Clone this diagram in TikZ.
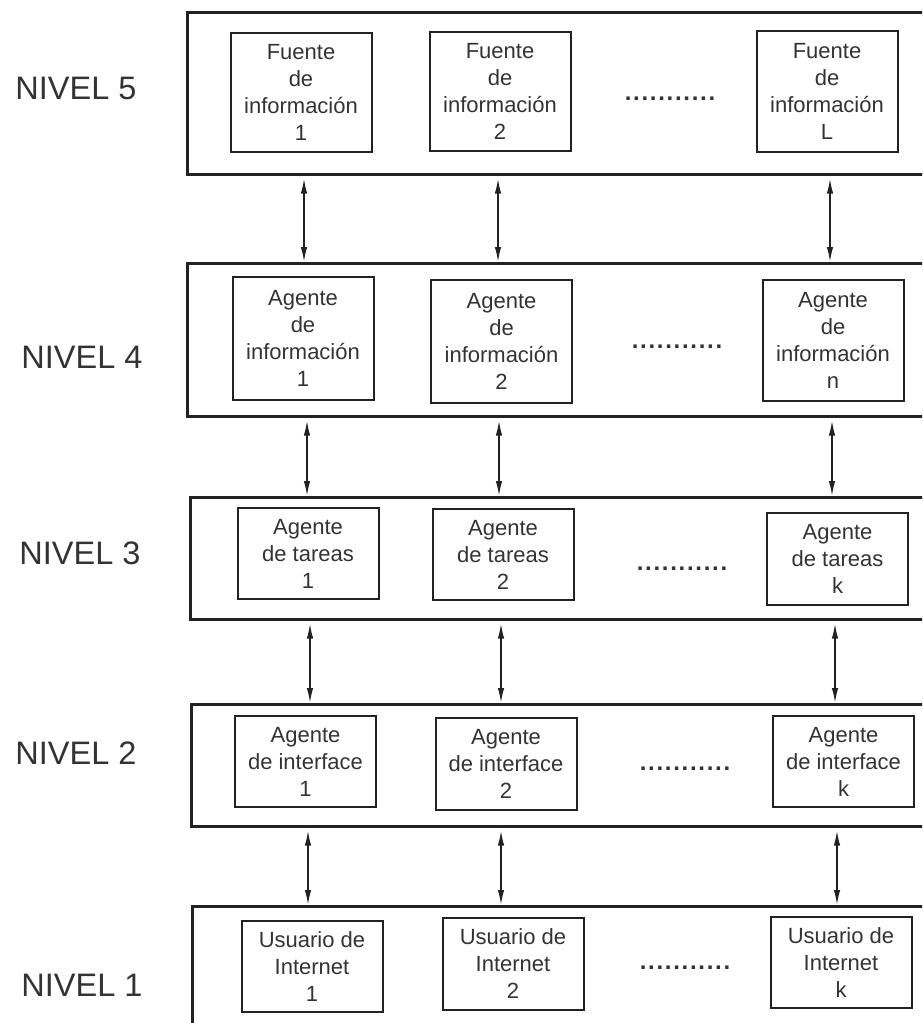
\documentclass[tikz,border=0pt]{standalone}
\usepackage{fontspec}
\setmainfont{Liberation Sans}
\usetikzlibrary{arrows.meta}
\definecolor{lvink}{HTML}{222222}
\definecolor{lvtext}{HTML}{333333}
\tikzset{
  levelbox/.style={draw=lvink,line width=2.5pt,anchor=north west,minimum width=760pt,inner sep=0pt},
  unitbox/.style={draw=lvink,line width=2pt,inner sep=0pt,align=center,text=lvtext,font=\fontsize{22}{27}\selectfont,minimum width=141pt},
  lvl/.style={text=lvtext,font=\fontsize{32.5}{38}\selectfont},
  gap/.style={text=lvtext,font=\fontsize{24}{26}\bfseries,anchor=base,inner sep=0pt},
  arr/.style={{Latex[length=15pt,width=6.5pt]}-{Latex[length=15pt,width=6.5pt]},line width=1.6pt,draw=lvink,shorten <=3pt},
}
\newcommand{\dotrow}{\hbox to 92pt{\xleaders\hbox to 8.36pt{\hss.\hss}\hfill}}

\begin{document}
\begin{tikzpicture}[x=1pt,y=-1pt]
  \useasboundingbox (0,0) rectangle (922,1023);
  \clip (0,0) rectangle (922,1023);
  % niveles
  \node[levelbox,minimum height=162pt] (f5) at (186,11) {};
  \node[levelbox,minimum height=153pt] (f4) at (186,262) {};
  \node[levelbox,minimum height=122pt] (f3) at (189,496) {};
  \node[levelbox,minimum height=122pt] (f2) at (190,703) {};
  \node[levelbox,minimum height=200pt] (f1) at (191,905) {};
  \node[lvl] (n5) at (76,88) {NIVEL 5};
  \node[lvl] (n4) at (82,357) {NIVEL 4};
  \node[lvl] (n3) at (80,553) {NIVEL 3};
  \node[lvl] (n2) at (76,753) {NIVEL 2};
  \node[lvl] (n1) at (82,985) {NIVEL 1};
  % nivel 5
  \node[unitbox,minimum height=119pt] (fi1) at (301,92.5) {Fuente\\de\\información\\1};
  \node[unitbox,minimum height=119pt] (fi2) at (500,91.5) {Fuente\\de\\información\\2};
  \node[unitbox,minimum height=121pt] (fiL) at (827,91.5) {Fuente\\de\\información\\L};
  \node[gap] (d5) at (670,100) {\dotrow};
  % nivel 4
  \node[unitbox,minimum height=123pt] (ai1) at (303,338.5) {Agente\\de\\información\\1};
  \node[unitbox,minimum height=123pt] (ai2) at (501.5,341.5) {Agente\\de\\información\\2};
  \node[unitbox,minimum height=121pt] (ain) at (833,340.5) {Agente\\de\\información\\n};
  \node[gap] (d4) at (677,348) {\dotrow};
  % nivel 3
  \node[unitbox,minimum height=91pt] (at1) at (308,553.5) {Agente\\de tareas\\1};
  \node[unitbox,minimum height=91pt] (at2) at (503,554.5) {Agente\\de tareas\\2};
  \node[unitbox,minimum height=92pt] (atk) at (837.5,559) {Agente\\de tareas\\k};
  \node[gap] (d3) at (682,570) {\dotrow};
  % nivel 2
  \node[unitbox,minimum height=91pt] (ag1) at (305.5,761.5) {Agente\\de interface\\1};
  \node[unitbox,minimum height=92pt] (ag2) at (506,764) {Agente\\de interface\\2};
  \node[unitbox,minimum height=91pt] (agk) at (843.5,761.5) {Agente\\de interface\\k};
  \node[gap] (d2) at (685,770) {\dotrow};
  % nivel 1
  \node[unitbox,minimum height=91pt] (us1) at (312,966.5) {Usuario de\\Internet\\1};
  \node[unitbox,minimum height=92pt] (us2) at (513,964) {Usuario de\\Internet\\2};
  \node[unitbox,minimum height=91pt] (usk) at (841,962.5) {Usuario de\\Internet\\k};
  \node[gap] (d1) at (685,969) {\dotrow};
  % enlaces entre niveles
  \foreach \up/\lo/\xa/\xb/\xc in {5/4/304/498/830, 4/3/307/499/832, 3/2/310/501/835, 2/1/308/501/837} {
    \coordinate (ca) at (\xa,0);
    \coordinate (cb) at (\xb,0);
    \coordinate (cc) at (\xc,0);
    \draw[arr] (f\up.south -| ca) -- (f\lo.north -| ca);
    \draw[arr] (f\up.south -| cb) -- (f\lo.north -| cb);
    \draw[arr] (f\up.south -| cc) -- (f\lo.north -| cc);
  }
\end{tikzpicture}
\end{document}
